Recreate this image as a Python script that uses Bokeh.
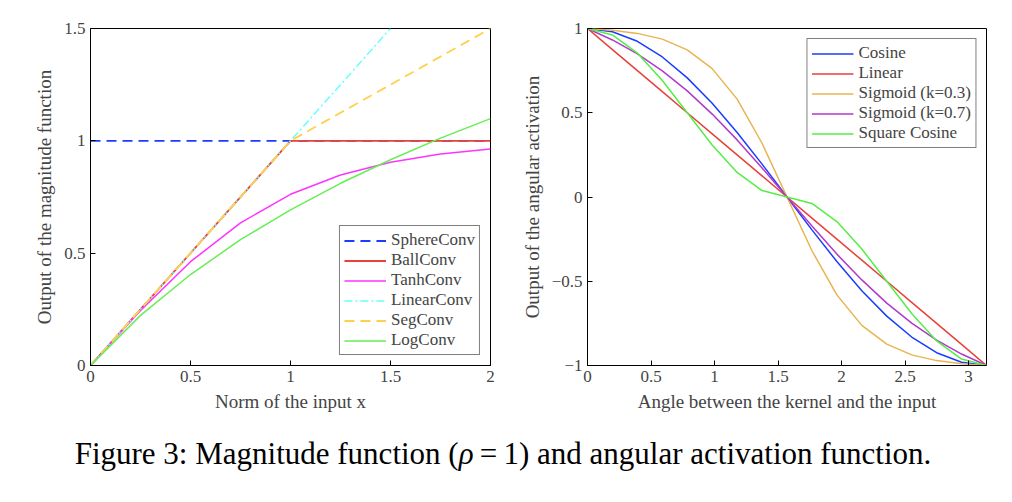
from bokeh.layouts import column, row
from bokeh.models import Div, Legend, LegendItem, Range1d, FixedTicker
from bokeh.plotting import figure
from bokeh.embed import file_html
from bokeh.resources import INLINE

FONT = "Liberation Serif"

# left panel: magnitude functions
mag_x = [0, 0.25, 0.5, 0.75, 1.0, 1.25, 1.5, 1.75, 2.0]
sphere_x, sphere_y = [0, 2], [1, 1]
ball_x, ball_y = [0, 1, 2], [0, 1, 1]
tanh_y = [0, 0.245, 0.462, 0.635, 0.762, 0.848, 0.905, 0.941, 0.964]
linear_x, linear_y = [0, 1.5], [0, 1.5]
seg_x, seg_y = [0, 1, 2], [0, 1, 1.5]
log_y = [0, 0.223, 0.405, 0.560, 0.693, 0.811, 0.916, 1.012, 1.099]

# right panel: angular activations (17 samples from 0 to pi)
ang_x = [i * 3.14159265 / 16 for i in range(17)]
half_cos = [1, 0.981, 0.924, 0.831, 0.707, 0.556, 0.383, 0.195, 0]
half_lin = [1, 0.875, 0.75, 0.625, 0.5, 0.375, 0.25, 0.125, 0]
half_sig3 = [1, 0.990, 0.971, 0.937, 0.873, 0.762, 0.581, 0.319, 0]
half_sig7 = [1, 0.932, 0.849, 0.749, 0.630, 0.492, 0.339, 0.172, 0]
half_sq = [1, 0.962, 0.854, 0.691, 0.5, 0.309, 0.146, 0.038, 0]


def full(h):
    return h + [-v for v in reversed(h[:-1])]


cos_y, lin_y, sig3_y, sig7_y, sq_y = map(full, [half_cos, half_lin, half_sig3, half_sig7, half_sq])


def style(p, xt, yt):
    p.grid.visible = False
    p.outline_line_color = "black"
    for ax in (p.xaxis, p.yaxis):
        ax.major_tick_in = 5
        ax.major_tick_out = 0
        ax.minor_tick_line_color = None
        ax.major_label_text_font = FONT
        ax.major_label_text_font_size = "17px"
        ax.axis_label_text_font = FONT
        ax.axis_label_text_font_size = "19px"
        ax.axis_label_text_font_style = "normal"
        ax.axis_label_standoff = 6
    p.xaxis.ticker = FixedTicker(ticks=xt)
    p.yaxis.ticker = FixedTicker(ticks=yt)


def leg(items, loc):
    return Legend(items=items, location=loc, label_text_font=FONT, label_text_font_size="17px",
                  border_line_color="black", spacing=0, padding=4, glyph_width=42,
                  label_height=19, glyph_height=19)


p1 = figure(width=500, height=420, output_backend="svg", toolbar_location=None,
            x_range=Range1d(0, 2), y_range=Range1d(0, 1.5),
            min_border_top=28, min_border_bottom=55, min_border_left=90, min_border_right=10)
style(p1, [0, 0.5, 1, 1.5, 2], [0, 0.5, 1, 1.5])
p1.xaxis.axis_label = "Norm of the input x"
p1.yaxis.axis_label = "Output of the magnitude function"

r = []
r.append(p1.line(sphere_x, sphere_y, color="#1a3cff", line_width=1.8, line_dash="10 6"))
r.append(p1.line(ball_x, ball_y, color="#e8413a", line_width=1.8))
r.append(p1.line(mag_x, tanh_y, color="#ff33ff", line_width=1.5))
r.append(p1.line(linear_x, linear_y, color="#66ffff", line_width=1.5, line_dash="8 3 2 3"))
r.append(p1.line(seg_x, seg_y, color="#ffd04d", line_width=1.8, line_dash="10 6"))
r.append(p1.line(mag_x, log_y, color="#66ee55", line_width=1.5))
names = ["SphereConv", "BallConv", "TanhConv", "LinearConv", "SegConv", "LogConv"]
p1.add_layout(leg([LegendItem(label=n, renderers=[g]) for n, g in zip(names, r)], "bottom_right"))

p2 = figure(width=496, height=420, output_backend="svg", toolbar_location=None,
            x_range=Range1d(0, 3.14159265), y_range=Range1d(-1, 1),
            min_border_top=28, min_border_bottom=55, min_border_left=87, min_border_right=10)
style(p2, [0, 0.5, 1, 1.5, 2, 2.5, 3], [-1, -0.5, 0, 0.5, 1])
p2.xaxis.axis_label = "Angle between the kernel and the input"
p2.yaxis.axis_label = "Output of the angular activation"

r2 = []
r2.append(p2.line(ang_x, cos_y, color="#1a3cff", line_width=1.5))
r2.append(p2.line(ang_x, lin_y, color="#e8413a", line_width=1.5))
r2.append(p2.line(ang_x, sig3_y, color="#e8b450", line_width=1.5))
r2.append(p2.line(ang_x, sig7_y, color="#b03acc", line_width=1.5))
r2.append(p2.line(ang_x, sq_y, color="#55ee44", line_width=1.5))
names2 = ["Cosine", "Linear", "Sigmoid (k=0.3)", "Sigmoid (k=0.7)", "Square Cosine"]
p2.add_layout(leg([LegendItem(label=n, renderers=[g]) for n, g in zip(names2, r2)], "top_right"))

cap = Div(text="Figure 3: Magnitude function (<i>&rho;</i>&thinsp;=&thinsp;1) and angular activation function.",
          width=996, height=56,
          styles={"font-family": FONT, "font-size": "31px", "text-align": "center",
                  "width": "996px", "margin-top": "12px"})

layout = column(row(p1, p2), cap)
open("out.html", "w").write(file_html(layout, INLINE))
